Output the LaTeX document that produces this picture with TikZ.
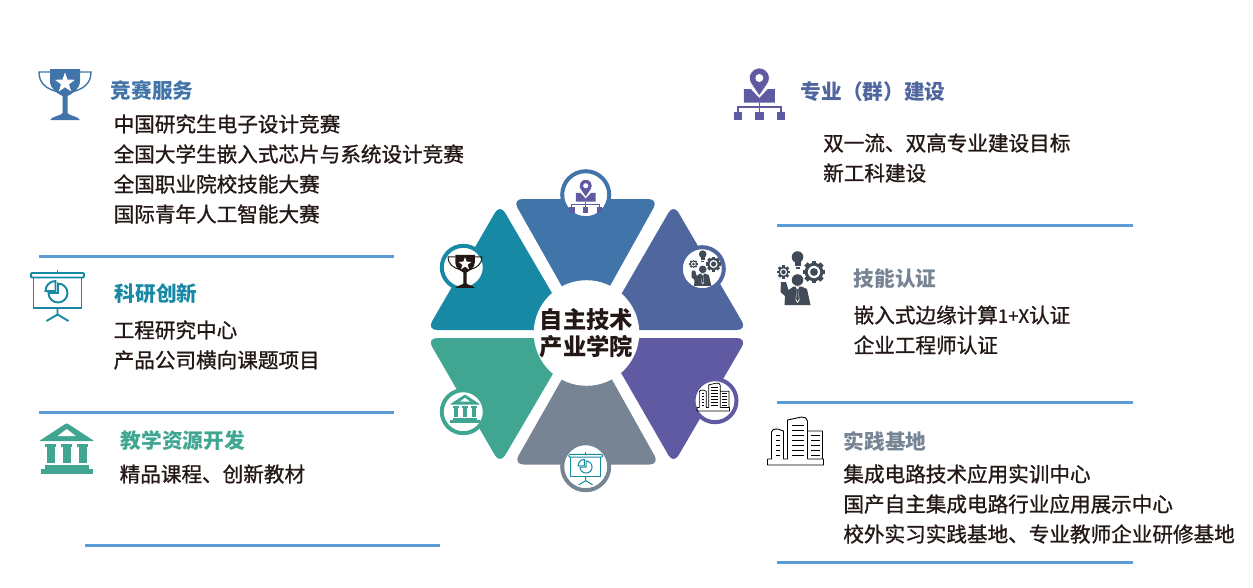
\documentclass[tikz,border=0pt]{standalone}
\usepackage{fontspec}
\setmainfont{Noto Sans CJK SC}
\newfontfamily\itemfont[FakeBold=1]{Noto Sans CJK SC}
\definecolor{cblue}{HTML}{4174A9}
\definecolor{cslate}{HTML}{50669F}
\definecolor{cpurple}{HTML}{5F5AA2}
\definecolor{cgray}{HTML}{768494}
\definecolor{cgreen}{HTML}{41A691}
\definecolor{cteal}{HTML}{1789A4}
\definecolor{cline}{HTML}{5B9BD5}
\definecolor{cink}{HTML}{231815}
\definecolor{cdark}{HTML}{414B57}
\newcommand{\gearmark}[3]{%
  \begin{scope}[shift={(#1,#2)},scale=#3]
    \foreach \a in {0,45,...,315} \fill[rotate=\a] (-.26,.7) rectangle (.26,1.22);
    \fill (0,0) circle (1);
    \fill[white] (0,0) circle (.66);
    \fill (0,0) circle (.42);
  \end{scope}}
\tikzset{
  head/.style={anchor=west,inner sep=0pt,font=\fontsize{20.7}{24}\selectfont\bfseries},
  item/.style={anchor=west,inner sep=0pt,text=cink,font=\fontsize{20.6}{24}\selectfont\itemfont},
  rule/.style={cline,line width=3pt},
  dot/.style={circle,draw=#1,fill=white,line width=4pt,minimum size=43pt,inner sep=0pt},
  wedge/.style={#1,rounded corners=10pt},
  pics/trophy/.style={code={
    \draw[#1] (-15,-23) -- (-26,-23) .. controls (-26,-11) and (-18,-6) .. (-7,-3);
    \draw[#1] (15,-23) -- (26,-23) .. controls (26,-11) and (18,-6) .. (7,-3);
    \fill[#1] (-15,-26) -- (15,-26) -- (15,-14) .. controls (15,-6) and (7,-1) .. (2.5,1)
      -- (2.5,18) .. controls (4,21) and (13,21) .. (15,25) -- (-15,25)
      .. controls (-13,21) and (-4,21) .. (-2.5,18) -- (-2.5,1)
      .. controls (-7,-1) and (-15,-6) .. (-15,-14) -- cycle;
    \fill[white] (0,-22.5) -- (2.5,-15.4) -- (10,-15.2) -- (4,-10.7) -- (6.2,-3.5) -- (0,-7.8)
      -- (-6.2,-3.5) -- (-4,-10.7) -- (-10,-15.2) -- (-2.5,-15.4) -- cycle;
  }},
  pics/plan/.style={code={
    \fill[#1] (-15.5,-5) -- (-8.5,-5) -- (0,4) -- (8.5,-5) -- (15.5,-5) -- (15.5,8.7) -- (-15.5,8.7) -- cycle;
    \filldraw[fill=#1,draw=white,line width=.6pt] (0,2) -- (-8.66,-11) arc[start angle=150,end angle=390,radius=10] -- cycle;
    \fill[white] (0,-16) circle (4);
    \draw[#1] (0,8.7) -- (0,18) (-21.5,18) -- (-21.5,13) -- (21.5,13) -- (21.5,18);
    \foreach \x in {-21.5,0,21.5} \fill[#1] (\x-4.3,17.7) rectangle (\x+4.3,26);
  }},
  pics/expert/.style={code={
    \begin{scope}[fill=#1]
      \gearmark{-14}{-6}{5.4}
      \gearmark{16.5}{-6}{9.3}
      \fill (0,-21) circle (5.8);
      \fill (-3,-17) rectangle (3,-12);
      \fill (-2,-11) rectangle (2,-9.5);
      \fill (0,2) circle (5.8);
      \fill (-16.5,4) -- (-11.5,4) -- (-9,12) -- (-4,8.5) -- (4,8.5) -- (9.5,11) -- (13,27)
        -- (-13,27) -- (-12.5,18) -- (-17,14) -- cycle;
    \end{scope}
    \fill[white] (-2,8.5) -- (2,8.5) -- (.7,11) -- (2,22) -- (0,25) -- (-2,22) -- (-.7,11) -- cycle;
    \fill[#1] (-.9,11) -- (.9,11) -- (1.3,21) -- (0,23.5) -- (-1.3,21) -- cycle;
  }},
  pics/blocks/.style={code={
    \draw[#1,line join=round] (-28,18) -- (-28,24) -- (28,24) -- (28,18) -- (27,18) -- (27,-10) -- (12,-10)
      (12,18) -- (12,-20) .. controls (12,-23) and (9,-24) .. (6,-24) -- (-8,-21) -- (-8,18)
      (-28,18) -- (-24,18) -- (-24,-9) .. controls (-24,-11) and (-22,-12) .. (-18,-12) -- (-12,-10) -- (-12,18) -- (-8,18)
      (12,18) -- (27,18);
    \foreach \y in {-6,-1,4,9,14} \draw[#1] (-20,\y) -- (-16,\y) (15.5,\y) -- (24,\y);
    \foreach \y in {-16,-11,-6,-1,4,9,14} \draw[#1] (-4,\y) -- (8,\y);
  }},
  pics/board/.style={code={
    \draw[#1] (0,-25) -- (0,-22);
    \draw[#1,rounded corners=1pt] (-26.5,-22) rectangle (26.5,-17.5);
    \draw[#1] (-24,-17.5) -- (-24,13) -- (24,13) -- (24,-17.5);
    \draw[#1] (-9,-2) arc[start angle=180,end angle=-90,radius=9.5] -- (.5,-2) -- cycle;
    \draw[#1] (-2,-4) -- (-12,-4) arc[start angle=180,end angle=270,radius=10] -- cycle;
    \draw[#1] (0,13) -- (0,20) (-11,26) -- (0,19.5) -- (11,26);
  }},
  pics/bank/.style={code={
    \fill[#1,rounded corners=1pt] (0,-26) -- (27.5,-8) -- (-27.5,-8) -- cycle;
    \fill[white] (0,-20) -- (9,-13) -- (-9,-13) -- cycle;
    \foreach \x in {-16,0,16} {
      \fill[#1] (\x-5.5,-5.5) rectangle (\x+5.5,-2.5);
      \fill[#1] (\x-4,-2.5) rectangle (\x+4,14);
    }
    \fill[#1] (-22,16) rectangle (22,20);
    \fill[#1] (-26,20) rectangle (26,25);
  }},
}
\begin{document}
\begin{tikzpicture}[x=1pt,y=-1pt,line width=1.4pt]
\useasboundingbox (0,0) rectangle (1253,587);
% wedges
\fill[wedge=cblue] (512.5,199) -- (658.5,199) -- (586,329) -- cycle;
\fill[wedge=cslate] (673.5,204) -- (747,330) -- (600.5,330) -- cycle;
\fill[wedge=cpurple] (601,338) -- (747,338) -- (673.5,464) -- cycle;
\fill[wedge=cgray] (513.5,464.5) -- (659.5,464.5) -- (587,335) -- cycle;
\fill[wedge=cgreen] (427,338) -- (574,338) -- (500,464) -- cycle;
\fill[wedge=cteal] (500,204) -- (573.5,330) -- (427,330) -- cycle;
\node[circle,fill=white,minimum size=98pt,inner sep=0pt,align=center,text=cink,
  font=\fontsize{23.3}{27}\selectfont\bfseries] (hub) at (586.5,333) {自主技术\\产业学院};
% small icons
\node[dot=cblue,minimum size=47pt] (dotplan) at (585.7,194.7) {};
\node[dot=cslate] (dotexpert) at (702.3,268.7) {};
\node[dot=cpurple] (dotblocks) at (715,400.7) {};
\node[dot=cgray,minimum size=47pt] (dotboard) at (585.7,466.7) {};
\node[dot=cgreen] (dotbank) at (463.3,411.7) {};
\node[dot=cteal] (dottrophy) at (463.3,267.3) {};
\pic[scale=.64,line width=.9pt] at (585.7,196) {plan=cpurple};
\pic[scale=.66] at (702.7,268) {expert=cdark};
\pic[scale=.58,line width=.7pt] at (713.3,397) {blocks=black};
\pic[scale=.635,line width=1pt] at (585.7,468.3) {board=cteal};
\pic[scale=.56] at (465,409) {bank=cgreen};
\pic[scale=.65,line width=1pt] at (465,271.7) {trophy=cink};
% large icons
\pic at (65,95) {trophy=cblue};
\pic[line width=1.9pt] at (57.5,295) {board=cteal};
\pic at (66.7,449) {bank=cgreen};
\pic at (759.3,94) {plan=cpurple};
\pic at (797.5,278) {expert=cdark};
\pic[line width=.9pt] at (795.5,441) {blocks=black};
% left column
\node[head,text=cblue] (match) at (110,90) {竞赛服务};
\node[item] (match1) at (113,124) {中国研究生电子设计竞赛};
\node[item] (match2) at (113,154) {全国大学生嵌入式芯片与系统设计竞赛};
\node[item] (match3) at (113,184) {全国职业院校技能大赛};
\node[item] (match4) at (113,214) {国际青年人工智能大赛};
\draw[rule] (39,256) -- (394,256);
\node[head,text=cteal] (research) at (114,293.5) {科研创新};
\node[item] (research1) at (113,330) {工程研究中心};
\node[item] (research2) at (113,360) {产品公司横向课题项目};
\draw[rule] (39,412) -- (394,412);
\node[head,text=cgreen] (teach) at (120,441) {教学资源开发};
\node[item] (teach1) at (119,474) {精品课程、创新教材};
\draw[rule] (85,545) -- (440,545);
% right column
\node[head,text=cslate] (major) at (800,92) {专业（群）建设};
\node[item] (major1) at (822.5,143) {双一流、双高专业建设目标};
\node[item] (major2) at (822.5,173) {新工科建设};
\draw[rule] (777,225) -- (1133,225);
\node[head,text=cgray] (skill) at (853,279) {技能认证};
\node[item] (skill1) at (853,315) {嵌入式边缘计算{\fontsize{18.5}{24}\selectfont 1+X}认证};
\node[item] (skill2) at (853,345) {企业工程师认证};
\draw[rule] (777,402) -- (1133,402);
\node[head,text=cgray] (base) at (843,441) {实践基地};
\node[item] (base1) at (842.7,474) {集成电路技术应用实训中心};
\node[item] (base2) at (842.7,504) {国产自主集成电路行业应用展示中心};
\node[item] (base3) at (842.7,534) {校外实习实践基地、专业教师企业研修基地};
\draw[rule] (777,562) -- (1133,562);
\end{tikzpicture}
\end{document}
